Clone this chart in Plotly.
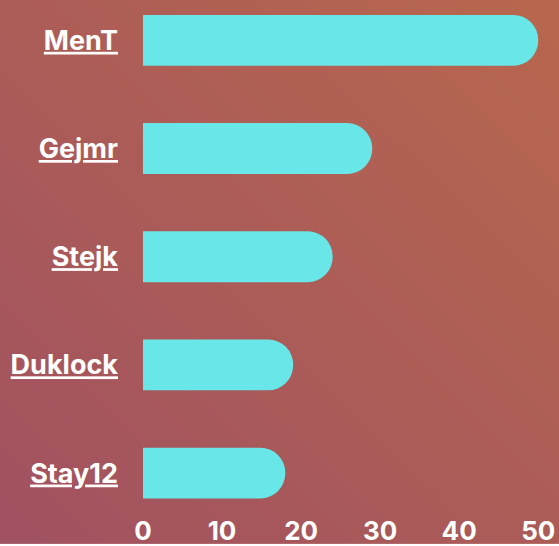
import base64, struct, zlib
import numpy as np
import plotly.graph_objects as go

categories = ["MenT", "Gejmr", "Stejk", "Duklock", "Stay12"]
values = [50, 29, 24, 19, 18]
x_ticks = [0, 10, 20, 30, 40, 50]

W, H = 559, 546
L, R, T, B = 143, 20, 0, 31
pw, ph = W - L - R, H - T - B


def gradient_png(w, h):
    c0 = np.array([161, 82, 97], dtype=float)   # bottom-left
    c1 = np.array([184, 104, 78], dtype=float)  # top-right
    xs = np.linspace(0, 1, w)[None, :]
    ys = np.linspace(0, 1, h)[:, None]
    t = (xs + (1 - ys)) / 2
    img = (c0[None, None, :] * (1 - t[..., None]) + c1[None, None, :] * t[..., None]).astype(np.uint8)
    raw = b"".join(b"\x00" + img[r].tobytes() for r in range(h))

    def chunk(tag, data):
        c = struct.pack(">I", len(data)) + tag + data
        return c + struct.pack(">I", zlib.crc32(tag + data) & 0xFFFFFFFF)

    png = b"\x89PNG\r\n\x1a\n" + chunk(b"IHDR", struct.pack(">IIBBBBB", w, h, 8, 2, 0, 0, 0))
    png += chunk(b"IDAT", zlib.compress(raw, 9)) + chunk(b"IEND", b"")
    return "data:image/png;base64," + base64.b64encode(png).decode()


fig = go.Figure(
    go.Bar(
        x=values,
        y=list(range(len(categories))),
        orientation="h",
        marker=dict(color="#68E6E8", line=dict(width=0)),
        hoverinfo="skip",
    )
)

fig.update_layout(
    width=W,
    height=H,
    margin=dict(l=L, r=R, t=T, b=B, pad=0),
    paper_bgcolor="rgba(0,0,0,0)",
    plot_bgcolor="rgba(0,0,0,0)",
    bargap=0.53,
    barcornerradius="50%",
    showlegend=False,
    font=dict(family="Inter", color="white", size=26, weight=700),
    images=[
        dict(
            source=gradient_png(W, H),
            xref="paper", yref="paper",
            x=-L / pw, y=1 + T / ph,
            sizex=W / pw, sizey=H / ph,
            xanchor="left", yanchor="top",
            sizing="stretch", layer="below",
        )
    ],
    xaxis=dict(
        range=[0, 50.1],
        tickvals=x_ticks,
        ticktext=[str(v) for v in x_ticks],
        showgrid=False, zeroline=False, showline=False,
        ticks="", ticklabelstandoff=0,
        tickfont=dict(size=26, family="Inter", weight=700, color="white"),
    ),
    yaxis=dict(
        range=[4.369, -0.373],
        tickvals=list(range(len(categories))),
        ticktext=[f"<u>{c}</u>" for c in categories],
        showgrid=False, zeroline=False, showline=False,
        ticks="", ticklabelstandoff=24,
        tickfont=dict(size=27, family="Inter", weight=700, color="white"),
    ),
)

fig.write_html(
    "out.html",
    config={"displayModeBar": False},
    post_script="document.body.style.margin='0';document.body.style.overflow='hidden';",
)
